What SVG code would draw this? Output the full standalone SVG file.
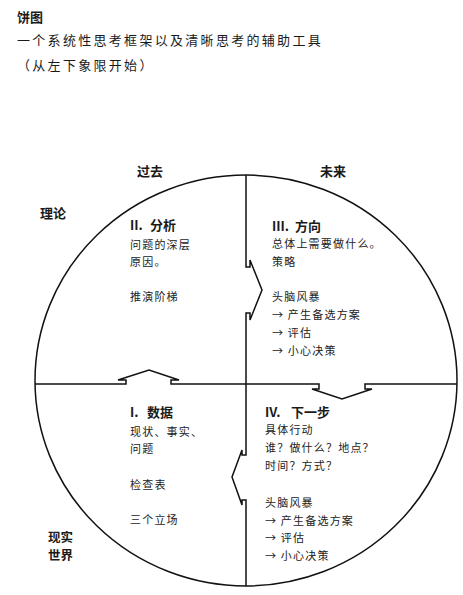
<svg xmlns="http://www.w3.org/2000/svg" width="463" height="595" viewBox="0 0 463 595">
<style>
.h{font-family:"Noto Sans CJK SC","Liberation Sans",sans-serif;font-weight:bold;font-size:13px;fill:#1a1a1a}
.t{font-family:"Noto Sans CJK SC","Liberation Serif",serif;font-size:11px;letter-spacing:1.2px;fill:#222}
.s{font-family:"Noto Sans CJK SC","Liberation Serif",serif;font-size:13px;letter-spacing:2.3px;fill:#1a1a1a}
.ln{fill:none;stroke:#111;stroke-width:1.5;stroke-linejoin:miter}
</style>
<rect width="463" height="595" fill="#fff"/>
<g id="title">
<text class="h" x="17" y="22">饼图</text>
<text class="s" x="17" y="45">一个系统性思考框架以及清晰思考的辅助工具</text>
<text class="s" x="17" y="70">（从左下象限开始）</text>
</g>
<g id="axis-labels">
<text class="h" x="137" y="176">过去</text>
<text class="h" x="320" y="176">未来</text>
<text class="h" x="40" y="218">理论</text>
<text class="h" x="48" y="542" style="font-size:12.5px">现实<tspan x="48" dy="18">世界</tspan></text>
</g>
<g id="frame">
<ellipse class="ln" cx="246" cy="380.5" rx="211" ry="205.5"/>
</g>
<g id="connectors">
<path class="ln" d="M35,384 H126 V380 H118 L149,370 L179,380 H171 V384 H246"/>
<path class="ln" d="M246,175 V267 H250 V260 L262,290 L250,320 V313 H246 V384"/>
<path class="ln" d="M246,384 H319 V389 H312 L342,399 L372,389 H365 V384 H457"/>
<path class="ln" d="M246,384 V455 H242 V450 L232,477 L242,505 V500 H246 V586"/>
</g>
<g id="q2">
<text class="h" x="130" y="230">II.<tspan x="150">分析</tspan></text>
<text class="t" x="130" y="249">问题的深层</text>
<text class="t" x="130" y="266">原因。</text>
<text class="t" x="130" y="301">推演阶梯</text>
</g>
<g id="q3">
<text class="h" x="272" y="231">III.<tspan x="295">方向</tspan></text>
<text class="t" x="272" y="248">总体上需要做什么。</text>
<text class="t" x="272" y="266">策略</text>
<text class="t" x="272" y="301">头脑风暴</text>
<text class="t" x="272" y="319">→ 产生备选方案</text>
<text class="t" x="272" y="337">→ 评估</text>
<text class="t" x="272" y="355">→ 小心决策</text>
</g>
<g id="q1">
<text class="h" x="130" y="417">I.<tspan x="147">数据</tspan></text>
<text class="t" x="130" y="436">现状、事实、</text>
<text class="t" x="130" y="453">问题</text>
<text class="t" x="130" y="489">检查表</text>
<text class="t" x="130" y="524">三个立场</text>
</g>
<g id="q4">
<text class="h" x="265" y="417">IV.<tspan x="291">下一步</tspan></text>
<text class="t" x="265" y="434">具体行动</text>
<text class="t" x="265" y="452">谁？做什么？地点？</text>
<text class="t" x="265" y="470">时间？方式？</text>
<text class="t" x="265" y="507">头脑风暴</text>
<text class="t" x="265" y="525">→ 产生备选方案</text>
<text class="t" x="265" y="542">→ 评估</text>
<text class="t" x="265" y="560">→ 小心决策</text>
</g>
</svg>
